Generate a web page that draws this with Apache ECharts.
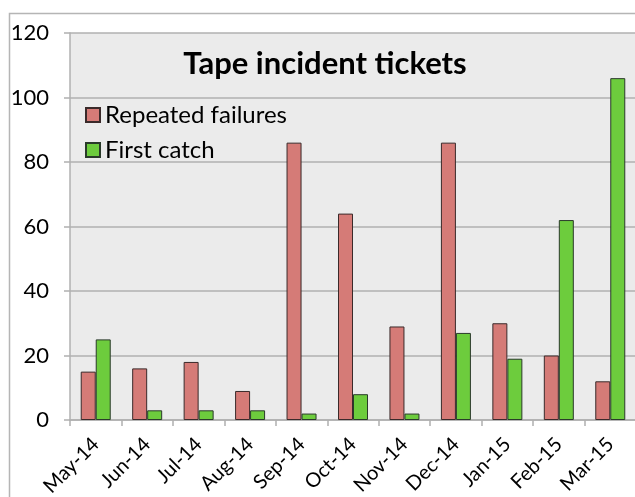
<!DOCTYPE html>
<html>
<head>
<meta charset="utf-8">
<script src="https://cdn.jsdelivr.net/npm/echarts@6/dist/echarts.min.js"></script>
<style>
  html, body { margin: 0; padding: 0; background: #fff; }
  #chart { width: 635px; height: 497px; }
</style>
</head>
<body>
<div id="chart"></div>
<script>
var months = ['May-14', 'Jun-14', 'Jul-14', 'Aug-14', 'Sep-14', 'Oct-14', 'Nov-14', 'Dec-14', 'Jan-15', 'Feb-15', 'Mar-15'];
var repeatedFailures = [15, 16, 18, 9, 86, 64, 29, 86, 30, 20, 12];
var firstCatch = [25, 3, 3, 3, 2, 8, 2, 27, 19, 62, 106];
var yTicks = [0, 20, 40, 60, 80, 100, 120];

var myChart = echarts.init(document.getElementById('chart'));

var fontName = 'Lato';

var option = {
    animation: false,
    textStyle: { fontFamily: fontName },
    graphic: [
        {
            // outer chart frame
            type: 'rect',
            shape: { x: 9.5, y: 13.5, width: 640, height: 500 },
            style: { fill: 'none', stroke: '#b5b5b5', lineWidth: 1.5 },
            z: -10
        }
    ],
    title: {
        text: 'Tape incident tickets',
        left: 320,
        top: 43,
        textAlign: 'center',
        textStyle: { fontFamily: fontName, fontSize: 31, fontWeight: 'bold', color: '#000' }
    },
    legend: {
        orient: 'vertical',
        left: 80,
        top: 98,
        itemWidth: 14,
        itemHeight: 14,
        itemGap: 11,
        icon: 'rect',
        textStyle: { fontFamily: fontName, fontSize: 24, color: '#000', padding: [0, 0, 0, 0] },
        data: ['Repeated failures', 'First catch']
    },
    grid: {
        left: 70,
        right: -1,
        top: 33,
        bottom: 77,
        outerBoundsMode: 'none',
        show: true,
        backgroundColor: '#ebebeb',
        borderWidth: 0
    },
    xAxis: {
        type: 'category',
        data: months,
        axisLine: { lineStyle: { color: '#b0b0b0', width: 1.5 } },
        axisTick: { show: true, length: 6, lineStyle: { color: '#b0b0b0', width: 1.5 } },
        axisLabel: {
            rotate: 45,
            fontFamily: fontName,
            fontSize: 20,
            color: '#000',
            margin: 21
        }
    },
    yAxis: {
        type: 'value',
        min: 0,
        max: 120,
        interval: 20,
        axisLine: { show: true, lineStyle: { color: '#b0b0b0', width: 1.5 } },
        axisTick: { show: true, length: 6, lineStyle: { color: '#b0b0b0', width: 1.5 } },
        splitLine: { lineStyle: { color: '#b0b0b0', width: 1.5 } },
        axisLabel: {
            fontFamily: fontName,
            fontSize: 22,
            color: '#000',
            margin: 21,
            formatter: function (v) { return yTicks.indexOf(v) >= 0 ? String(v) : ''; }
        }
    },
    series: [
        {
            name: 'Repeated failures',
            type: 'bar',
            barWidth: 15,
            barGap: '0%',
            itemStyle: { color: '#d57b77', borderColor: '#3a2a2a', borderWidth: 1 },
            data: repeatedFailures
        },
        {
            name: 'First catch',
            type: 'bar',
            barWidth: 15,
            barGap: '0%',
            itemStyle: { color: '#6dcc3d', borderColor: '#2a3a2a', borderWidth: 1 },
            data: firstCatch
        }
    ]
};

myChart.setOption(option);
</script>
</body>
</html>
